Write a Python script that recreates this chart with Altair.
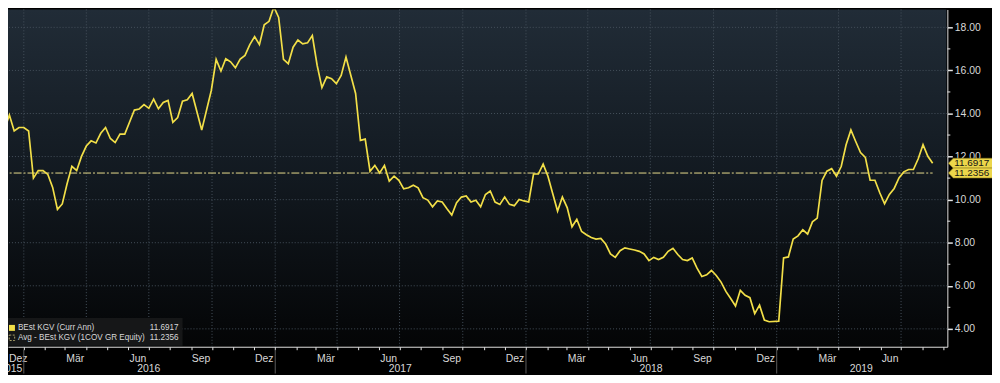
import altair as alt
import pandas as pd

# ---------------- data ----------------
dates = [
    "2015-11-27", "2015-12-11", "2015-12-18", "2015-12-25",
    "2016-01-01", "2016-01-08", "2016-01-15", "2016-01-22", "2016-01-29",
    "2016-02-05", "2016-02-12", "2016-02-19", "2016-02-26",
    "2016-03-04", "2016-03-11", "2016-03-18", "2016-03-25",
    "2016-04-01", "2016-04-08", "2016-04-15", "2016-04-22", "2016-04-29",
    "2016-05-06", "2016-05-13", "2016-05-20", "2016-05-27",
    "2016-06-10", "2016-06-17", "2016-06-24",
    "2016-07-01", "2016-07-08", "2016-07-15", "2016-07-22", "2016-07-29",
    "2016-08-05", "2016-08-12", "2016-08-19", "2016-08-26",
    "2016-09-02", "2016-09-16", "2016-09-30",
    "2016-10-07", "2016-10-14", "2016-10-21", "2016-10-28",
    "2016-11-04", "2016-11-11", "2016-11-18", "2016-11-25",
    "2016-12-02", "2016-12-09", "2016-12-16", "2016-12-23", "2016-12-30",
    "2017-01-06", "2017-01-13", "2017-01-20", "2017-01-27",
    "2017-02-03", "2017-02-10", "2017-02-17", "2017-02-24",
    "2017-03-03", "2017-03-10", "2017-03-17", "2017-03-24", "2017-03-31",
    "2017-04-07", "2017-04-14", "2017-04-28",
    "2017-05-05", "2017-05-12", "2017-05-19", "2017-05-26",
    "2017-06-02", "2017-06-09", "2017-06-16", "2017-06-23", "2017-06-30",
    "2017-07-07", "2017-07-14", "2017-07-21", "2017-07-28",
    "2017-08-04", "2017-08-11", "2017-08-18", "2017-08-25",
    "2017-09-01", "2017-09-08", "2017-09-15", "2017-09-22", "2017-09-29",
    "2017-10-06", "2017-10-13", "2017-10-20", "2017-10-27",
    "2017-11-03", "2017-11-10", "2017-11-17", "2017-11-24",
    "2017-12-01", "2017-12-08", "2017-12-15", "2017-12-22", "2017-12-29",
    "2018-01-05", "2018-01-12", "2018-01-19", "2018-01-26",
    "2018-02-02", "2018-02-09", "2018-02-16", "2018-02-23",
    "2018-03-02", "2018-03-09", "2018-03-16", "2018-03-23", "2018-03-30",
    "2018-04-06", "2018-04-13", "2018-04-20", "2018-04-27",
    "2018-05-04", "2018-05-11", "2018-05-18", "2018-05-25",
    "2018-06-01", "2018-06-08", "2018-06-15", "2018-06-22", "2018-06-29",
    "2018-07-06", "2018-07-13", "2018-07-20", "2018-07-27",
    "2018-08-03", "2018-08-10", "2018-08-17", "2018-08-24", "2018-08-31",
    "2018-09-07", "2018-09-14", "2018-09-21", "2018-09-28",
    "2018-10-05", "2018-10-12", "2018-10-19", "2018-10-26",
    "2018-11-02", "2018-11-09", "2018-11-16", "2018-11-23", "2018-11-30",
    "2018-12-07", "2018-12-14", "2018-12-21",
    "2019-01-04", "2019-01-11", "2019-01-18", "2019-01-25",
    "2019-02-01", "2019-02-08", "2019-02-15", "2019-02-22",
    "2019-03-01", "2019-03-08", "2019-03-15", "2019-03-22", "2019-03-29",
    "2019-04-05", "2019-04-12", "2019-04-19", "2019-04-26",
    "2019-05-03", "2019-05-10", "2019-05-17", "2019-05-24", "2019-05-31",
    "2019-06-07", "2019-06-14", "2019-06-21", "2019-06-28",
    "2019-07-05", "2019-07-12", "2019-07-19", "2019-07-26",
    "2019-08-02", "2019-08-09", "2019-08-16",
]
kgv = [
    12.62, 13.93, 13.19, 13.35,
    13.35, 13.19, 11.00, 11.35, 11.35,
    11.17, 10.57, 9.55, 9.80,
    10.74, 11.55, 11.35, 12.01,
    12.49, 12.73, 12.63, 13.08, 13.35,
    12.84, 12.65, 13.04, 13.04,
    14.16, 14.21, 14.41,
    14.24, 14.67, 14.22, 14.51, 14.61,
    13.59, 13.81, 14.57, 14.64,
    14.93, 13.23, 15.08,
    16.51, 15.97, 16.54, 16.40,
    16.12, 16.53, 16.70, 17.20,
    17.57, 17.20, 18.12, 18.28, 18.95,
    18.46, 16.51, 16.31, 17.08,
    17.41, 17.23, 17.28, 17.62,
    16.24, 15.20, 15.70, 15.62, 15.39,
    15.77, 16.62, 14.93,
    12.75, 12.81, 11.32, 11.59,
    11.24, 11.59, 10.86, 11.09, 10.90,
    10.50, 10.55, 10.67, 10.55,
    10.09, 9.98, 9.67, 9.94,
    9.89, 9.58, 9.29, 9.86, 10.12,
    10.17, 9.89, 9.97, 9.67,
    10.24, 10.40, 9.89, 9.78,
    10.12, 9.78, 9.72, 10.01, 9.94,
    9.89, 11.19, 11.19, 11.65,
    11.09, 10.27, 9.47, 10.12,
    9.63, 8.74, 9.09, 8.52, 8.37,
    8.24, 8.17, 8.20, 7.94,
    7.48, 7.32, 7.63, 7.76,
    7.71, 7.66, 7.60, 7.48, 7.17,
    7.32, 7.22, 7.32, 7.60,
    7.74, 7.45, 7.22, 7.17, 7.29,
    6.82, 6.43, 6.51, 6.71,
    6.48, 6.17, 5.74, 5.41,
    5.06, 5.79, 5.56, 5.45, 4.71,
    5.10, 4.41, 4.33,
    4.36, 7.29, 7.34, 8.17,
    8.32, 8.60, 8.40, 8.97,
    9.14, 10.89, 11.32, 11.44, 11.09,
    11.55, 12.55, 13.24, 12.70,
    12.19, 11.96, 10.90, 10.90, 10.32,
    9.81, 10.24, 10.52, 11.01,
    11.29, 11.40, 11.40, 11.90,
    12.55, 12.01, 11.6917,
]
avg_kgv = 11.2356
last_kgv = 11.6917

legend_names = ["BEst KGV (Curr Ann)", "Avg - BEst KGV (1COV GR Equity)"]
legend_values = ["11.6917", "11.2356"]

month_label_text = ["Dez", "Mär", "Jun", "Sep", "Dez", "Mär", "Jun", "Sep",
                    "Dez", "Mär", "Jun", "Sep", "Dez", "Mär", "Jun"]
month_label_dates = ["2015-12-24", "2016-03-16", "2016-06-15", "2016-09-15",
                     "2016-12-16", "2017-03-16", "2017-06-15", "2017-09-15",
                     "2017-12-16", "2018-03-16", "2018-06-15", "2018-09-15",
                     "2018-12-16", "2019-03-16", "2019-06-15"]
year_label_text = ["2015", "2016", "2017", "2018", "2019"]
year_label_dates = ["2015-12-13", "2016-07-01", "2017-07-02", "2018-07-02", "2019-05-04"]
year_breaks = ["2016-01-01", "2017-01-01", "2018-01-01", "2019-01-01"]
quarter_grid = ["2016-01-01", "2016-04-01", "2016-07-01", "2016-10-01",
                "2017-01-01", "2017-04-01", "2017-07-01", "2017-10-01",
                "2018-01-01", "2018-04-01", "2018-07-01", "2018-10-01",
                "2019-01-01", "2019-04-01", "2019-07-01"]
value_grid = [4, 6, 8, 10, 12, 14, 16, 18]
minor_ticks = [5, 7, 9, 11, 13, 15, 17]
x_start, x_end = "2015-12-09", "2019-09-06 10:00"

# ---------------- styling ----------------
W, H = 947, 340
YELLOW = "#f2df48"
AVG_YELLOW = "#e9dd8e"
TAG_YELLOW = "#ecd64a"
GRID = "#46515c"
AXIS = "#e4e4e4"
TXT = "#d8d8d8"
FONT = "Liberation Sans"
LEG_SIZE = 8.2


def dt(s):
    t = pd.Timestamp(s)
    return alt.DateTime(year=t.year, month=t.month, date=t.day, hours=t.hour)


month_ticks = [dt(d) for d in pd.date_range("2016-01-01", "2019-09-01", freq="MS")]

x_scale = alt.Scale(domain=[dt(x_start), dt(x_end)], nice=False)
y_scale = alt.Scale(domain=[3.17, 18.83], nice=False, zero=False)

x_axis = alt.Axis(orient="bottom", values=month_ticks, labels=False, grid=False,
                  domainColor=AXIS, tickColor=AXIS, tickSize=3, title=None)
y_axis = alt.Axis(orient="right", values=value_grid, grid=False, title=None, format=".2f",
                  tickSize=5, tickWidth=1.5, domainColor=AXIS, tickColor=AXIS,
                  labelColor=TXT, labelFont=FONT, labelFontSize=10.5, labelPadding=2)

one = pd.DataFrame({"a": [0]})
df = pd.DataFrame({"date": pd.to_datetime(dates), "kgv": kgv})

background = alt.Chart(one).mark_rect(
    color=alt.LinearGradient(
        gradient="linear", x1=0, x2=0, y1=0, y2=1,
        stops=[alt.GradientStop(color="#212c37", offset=0),
               alt.GradientStop(color="#121920", offset=0.5),
               alt.GradientStop(color="#040506", offset=1)]),
).encode(x=alt.value(0), x2=alt.value(W - 1), y=alt.value(0), y2=alt.value(H - 1))

vgrid = alt.Chart(pd.DataFrame({"d": pd.to_datetime(quarter_grid)})).mark_rule(
    color=GRID, strokeDash=[1, 2], strokeWidth=1
).encode(x=alt.X("d:T", scale=x_scale, axis=x_axis))

hgrid = alt.Chart(pd.DataFrame({"v": value_grid})).mark_rule(
    color=GRID, strokeDash=[1, 2], strokeWidth=1
).encode(y=alt.Y("v:Q", scale=y_scale, axis=y_axis))

minor = alt.Chart(pd.DataFrame({"v": minor_ticks})).mark_rule(
    color=AXIS, strokeWidth=1
).encode(y=alt.Y("v:Q", scale=y_scale, axis=y_axis), x=alt.value(W), x2=alt.value(W + 3))

avg_rule = alt.Chart(pd.DataFrame({"start": [pd.Timestamp(dates[0])],
                                   "end": [pd.Timestamp(dates[-1])],
                                   "v": [avg_kgv]})).mark_rule(
    color=AVG_YELLOW, strokeDash=[8, 2, 2, 2], strokeWidth=1, clip=True
).encode(x=alt.X("start:T", scale=x_scale, axis=x_axis), x2="end:T",
         y=alt.Y("v:Q", scale=y_scale, axis=y_axis))

line = alt.Chart(df).mark_line(color=YELLOW, strokeWidth=1.7, clip=True).encode(
    x=alt.X("date:T", scale=x_scale, axis=x_axis),
    y=alt.Y("kgv:Q", scale=y_scale, axis=y_axis),
)

# month / year labels under the axis
months = alt.Chart(pd.DataFrame({"d": pd.to_datetime(month_label_dates),
                                 "t": month_label_text})).mark_text(
    color=TXT, font=FONT, fontSize=10.5, baseline="middle", align="center"
).encode(x=alt.X("d:T", scale=x_scale, axis=x_axis), y=alt.value(H + 12), text="t:N")

years = alt.Chart(pd.DataFrame({"d": pd.to_datetime(year_label_dates),
                                "t": year_label_text})).mark_text(
    color=TXT, font=FONT, fontSize=10.5, baseline="middle", align="center"
).encode(x=alt.X("d:T", scale=x_scale, axis=x_axis), y=alt.value(H + 22), text="t:N")

separators = alt.Chart(pd.DataFrame({"d": pd.to_datetime(year_breaks)})).mark_rule(
    color="#5c5c5c", strokeWidth=1
).encode(x=alt.X("d:T", scale=x_scale, axis=x_axis), y=alt.value(H + 3), y2=alt.value(H + 27))

# value tags on the right axis
TAG_PATH = "M0,0 L0.5,-0.5 L4.6,-0.5 L4.6,0.5 L0.5,0.5 Z"
tags_df = pd.DataFrame({"v": [last_kgv, avg_kgv], "label": legend_values})
tags = alt.Chart(tags_df).mark_point(
    shape=TAG_PATH, filled=True, size=400, color=TAG_YELLOW, opacity=1,
    stroke="#8a7a20", strokeWidth=0.6
).encode(x=alt.value(W + 1), y=alt.Y("v:Q", scale=y_scale, axis=y_axis))
tag_text = alt.Chart(tags_df).mark_text(
    align="left", baseline="middle", color="#151515", font=FONT, fontSize=10
).encode(x=alt.value(W + 7), y=alt.Y("v:Q", scale=y_scale, axis=y_axis), text="label:N")

# legend box bottom-left
legend_box = alt.Chart(one).mark_rect(color="#161718").encode(
    x=alt.value(0), x2=alt.value(176), y=alt.value(H - 29), y2=alt.value(H - 1))
sq1 = alt.Chart(one).mark_square(color=YELLOW, size=36, opacity=1).encode(
    x=alt.value(4), y=alt.value(H - 19))
sq2 = alt.Chart(one).mark_square(color=AVG_YELLOW, size=30, filled=False,
                                 strokeDash=[2, 1.5], strokeWidth=1).encode(
    x=alt.value(4), y=alt.value(H - 9))
leg1 = alt.Chart(one).mark_text(align="left", baseline="middle", color=TXT, font=FONT,
                                fontSize=LEG_SIZE, text=legend_names[0]).encode(
    x=alt.value(10), y=alt.value(H - 19))
leg2 = alt.Chart(one).mark_text(align="left", baseline="middle", color=TXT, font=FONT,
                                fontSize=LEG_SIZE, text=legend_names[1]).encode(
    x=alt.value(10), y=alt.value(H - 9))
legv1 = alt.Chart(one).mark_text(align="right", baseline="middle", color=TXT, font=FONT,
                                 fontSize=LEG_SIZE, text=legend_values[0]).encode(
    x=alt.value(172), y=alt.value(H - 19))
legv2 = alt.Chart(one).mark_text(align="right", baseline="middle", color=TXT, font=FONT,
                                 fontSize=LEG_SIZE, text=legend_values[1]).encode(
    x=alt.value(172), y=alt.value(H - 9))

chart = alt.layer(
    background, vgrid, hgrid, minor, avg_rule, line, months, years, separators,
    tags, tag_text, legend_box, sq1, sq2, leg1, leg2, legv1, legv2,
).properties(
    width=W, height=H,
    autosize=alt.AutoSizeParams(type="none"),
    padding={"left": 0, "top": 0, "right": 45, "bottom": 27},
    background="#000000",
).configure_view(stroke=None)

chart.save("out.html", embed_options={"renderer": "svg", "actions": False})
